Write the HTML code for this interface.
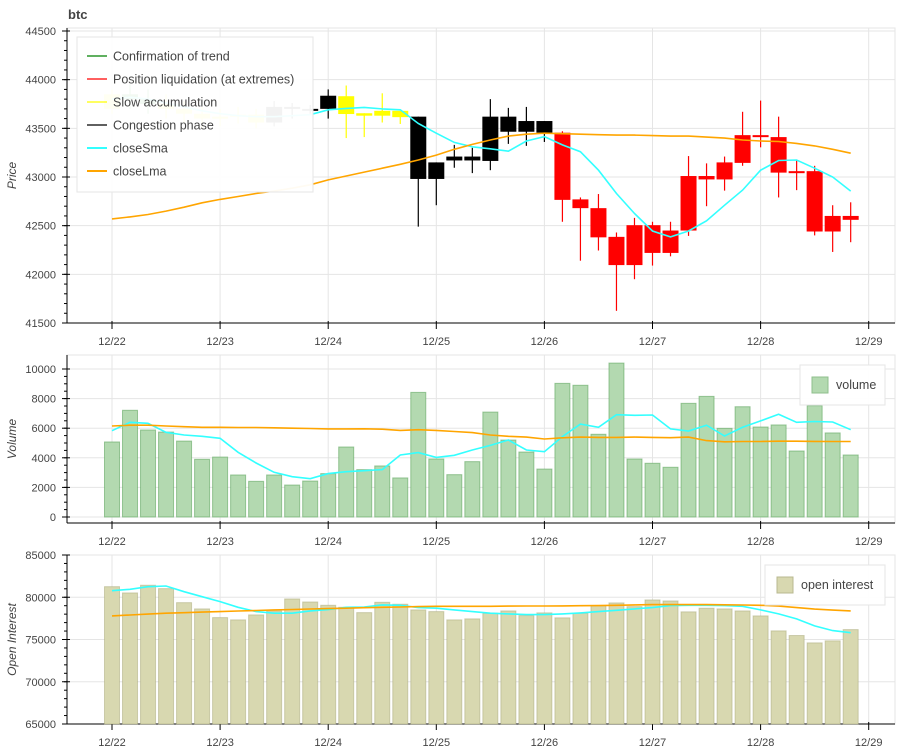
<!DOCTYPE html>
<html><head><meta charset="utf-8">
<style>
body{margin:0;background:#fff;font-family:"Liberation Sans",sans-serif;}
svg text{font-family:"Liberation Sans",sans-serif;}
</style></head>
<body>
<svg id="chart" width="900" height="750" xmlns="http://www.w3.org/2000/svg">
<rect width="900" height="750" fill="#fff"/>
<text x="68" y="19" font-size="13" font-weight="bold" fill="#444">btc</text>
<g id="p1"></g><g id="p2"></g><g id="p3"></g>
</svg>
<script>
const dayLabels=["12/22","12/23","12/24","12/25","12/26","12/27","12/28","12/29"];
const open=[43700,43850,43800,43750,43700,43650,43600,43620,43640,43560,43720,43700,43700,43830,43655,43680,43680,43620,43150,43170,43170,43165,43620,43575,43575,43455,42770,42680,42385,42095,42505,42450,42450,43010,42975,43145,43410,43410,43060,43060,42600,42560];
const close=[43850,43800,43750,43700,43650,43600,43620,43640,43560,43720,43700,43700,43835,43647,43630,43630,43615,42980,42980,43210,43210,43620,43465,43465,43455,42765,42680,42380,42095,42505,42220,42220,43010,42975,43150,43430,43430,43045,43045,42440,42440,42600];
const high=[43900,43950,43900,43850,43780,43720,43700,43720,43700,43780,43760,43740,43900,43940,43655,43860,43680,43620,43150,43330,43300,43800,43710,43720,43575,43470,42790,42825,42430,42580,42540,42540,43215,43140,43210,43670,43785,43620,43180,43115,42710,42740];
const low=[43650,43700,43650,43600,43550,43500,43520,43550,43500,43520,43600,43650,43600,43400,43410,43560,43545,42490,42710,43095,43040,43070,43340,43320,43360,42540,42140,42245,41625,41950,42090,42185,42395,42700,42860,43115,43305,42790,42865,42400,42230,42330];
const phase=["y","g","g","y","y","y","y","y","y","k","k","k","k","y","y","y","y","k","k","k","k","k","k","k","k","r","r","r","r","r","r","r","r","r","r","r","r","r","r","r","r","r"];
const priceSma=[43800,43820,43800,43760,43720,43680,43650,43630,43620,43620,43630,43640,43690,43705,43715,43700,43690,43550,43450,43355,43310,43290,43265,43370,43415,43330,43260,43070,42830,42625,42445,42385,42445,42550,42710,42865,43070,43170,43175,43090,43000,42855];
const priceLma=[42570,42590,42615,42650,42690,42735,42770,42800,42830,42855,42885,42920,42970,43010,43050,43090,43130,43175,43225,43285,43335,43380,43420,43440,43450,43445,43440,43435,43430,43430,43425,43420,43420,43410,43400,43380,43370,43365,43345,43320,43285,43245];
const volume=[5070,7210,5880,5740,5130,3900,4050,2840,2410,2840,2160,2430,2930,4730,3200,3450,2640,8420,3920,2860,3740,7090,5200,4390,3240,9030,8900,5590,10400,3920,3630,3360,7680,8150,5990,7450,6080,6220,4460,7520,5680,4190];
const volSma=[5830,6400,6330,5720,5540,5450,5320,4370,3650,3020,2720,2590,2930,3060,3130,3200,4190,4350,4030,4170,4530,4840,5200,4530,4410,5430,6280,6060,6910,6870,6890,5950,5810,6200,5470,6060,6490,6940,6400,6450,6420,5900];
const volLma=[6150,6200,6200,6150,6100,6060,6060,6050,6050,6030,6000,5980,5950,5950,5960,5930,5850,5900,5850,5780,5700,5540,5450,5400,5270,5350,5400,5380,5380,5400,5380,5360,5400,5160,5080,5100,5100,5120,5120,5110,5100,5100];
const oi=[81250,80510,81420,81020,79360,78620,77590,77320,77910,78380,79800,79440,79050,78810,78180,79400,79170,78500,78300,77320,77440,78110,78380,77830,78150,77560,78110,79000,79330,78890,79680,79560,78270,78700,78620,78380,77790,76020,75470,74600,74840,76170];
const oiSma=[80780,80940,81250,81330,80660,80070,79480,78810,78300,78110,78110,78380,78540,78810,78850,79090,79050,78770,78700,78500,78300,78110,78030,77950,77950,78030,78150,78300,78460,78620,78770,79010,79050,79050,79010,78930,78500,78030,77440,76610,76050,75800];
const oiLma=[77790,77900,78000,78110,78170,78240,78300,78370,78430,78500,78550,78610,78660,78710,78760,78810,78850,78890,78930,78930,78930,78930,78950,78960,78970,78980,79000,79010,79050,79090,79130,79130,79130,79130,79110,79080,79050,78950,78770,78600,78480,78380];
const priceTicks=[41500,42000,42500,43000,43500,44000,44500];
const volTicks=[0,2000,4000,6000,8000,10000];
const oiTicks=[65000,70000,75000,80000,85000];

const NS="http://www.w3.org/2000/svg";
const L=67,R=895,X0=112,DAY=108.1;
function xIdx(i){return X0+i*DAY/6;}
function xDay(d){return X0+d*DAY;}
function mk(parent,tag,attrs){const e=document.createElementNS(NS,tag);for(const k in attrs)e.setAttribute(k,attrs[k]);parent.appendChild(e);return e;}
function scale(v0,v1,y0,y1){return v=>y0+(v-v0)*(y1-y0)/(v1-v0);}
const colMap={g:"#008000",r:"#ff0000",y:"#ffff00",k:"#000000"};

function frame(g,top,bottom,ys,ticks,minorStep,title,name){
  const f=mk(g,"rect",{x:L,y:top,width:R-L,height:bottom-top,fill:"none",stroke:"#e5e5e5"});
  
  
  for(let d=0;d<dayLabels.length;d++){
    const gl=mk(g,"line",{x1:xDay(d),x2:xDay(d),y1:top,y2:bottom,stroke:"#e5e5e5"});
    
    
  }
  ticks.forEach(t=>{
    const y=ys(t);
    const gl=mk(g,"line",{x1:L,x2:R,y1:y,y2:y,stroke:"#e5e5e5"});
    
    
    mk(g,"line",{x1:L-5,x2:L+3,y1:y,y2:y,stroke:"#000"});
    const tx=mk(g,"text",{x:L-11,y:y+4,"font-size":"11","text-anchor":"end",fill:"#444"});
    tx.textContent=t;
    
    
  });
  for(let v=ticks[0];v<=ticks[ticks.length-1];v+=minorStep){
    const y=ys(v);mk(g,"line",{x1:L-3,x2:L,y1:y,y2:y,stroke:"#000"});
  }
  const ax=mk(g,"line",{x1:L,x2:L,y1:top,y2:bottom,stroke:"#000"});
  
  
  const bx=mk(g,"line",{x1:L,x2:R,y1:bottom,y2:bottom,stroke:"#000"});
  
  
  dayLabels.forEach((lab,d)=>{
    const x=xDay(d);
    mk(g,"line",{x1:x,x2:x,y1:bottom-2,y2:bottom+6,stroke:"#000"});
    const tx=mk(g,"text",{x:x,y:bottom+22,"font-size":"11","text-anchor":"middle",fill:"#444"});
    tx.textContent=lab;
    
    
  });
  const yt=mk(g,"text",{x:0,y:0,"font-size":"12","font-style":"italic","text-anchor":"middle",fill:"#444",transform:`translate(16,${(top+bottom)/2}) rotate(-90)`});
  yt.textContent=title;
  
  
}
function line(g,vals,ys,color,name){
  const pts=vals.map((v,i)=>xIdx(i).toFixed(1)+","+ys(v).toFixed(1)).join(" ");
  const p=mk(g,"polyline",{points:pts,fill:"none",stroke:color,"stroke-width":"1.6"});
  
  
}
function bars(g,vals,ys,fill,stroke,name){
  vals.forEach((v,i)=>{
    const y=ys(v);
    const b=mk(g,"rect",{x:xIdx(i)-7.5,y:y,width:15,height:ys.base-y,fill:fill,stroke:stroke,"stroke-opacity":"0.5"});
    
    
  });
}
function legendBox(g,x,y,w,h){
  return mk(g,"rect",{x:x,y:y,width:w,height:h,fill:"#fff","fill-opacity":"0.95",stroke:"#e5e5e5"});
}

// Panel 1
const g1=document.getElementById("p1");
const yP=scale(41500,44500,323,31);
frame(g1,28,323,yP,priceTicks,100,"Price","price");
for(let i=0;i<open.length;i++){
  const x=xIdx(i),c=colMap[phase[i]];
  const w=mk(g1,"line",{x1:x,x2:x,y1:yP(high[i]),y2:yP(low[i]),stroke:c,"stroke-width":"1.2"});
  
  
  const t=Math.max(open[i],close[i]),b=Math.min(open[i],close[i]);
  const h=Math.max(2,yP(b)-yP(t));
  const r=mk(g1,"rect",{x:x-8,y:yP(t),width:16,height:h,fill:c});
  
  
}
line(g1,priceSma,yP,"#33ffff","close-sma-line");
line(g1,priceLma,yP,"#ffa500","close-lma-line");
const lg=document.createElementNS(NS,"g");g1.appendChild(lg);


legendBox(lg,77,37,236,155);
const legItems=[["Confirmation of trend","#008000"],["Position liquidation (at extremes)","#ff0000"],["Slow accumulation","#ffff00"],["Congestion phase","#000000"],["closeSma","#33ffff"],["closeLma","#ffa500"]];
legItems.forEach((it,k)=>{
  const y=56+k*23;
  const e=mk(lg,"g",{});
  
  
  mk(e,"line",{x1:87,x2:107,y1:y,y2:y,stroke:it[1],"stroke-width":k>3?2:1.2});
  const t=mk(e,"text",{x:113,y:y+4.5,"font-size":"12.5",fill:"#444"});t.textContent=it[0];
});

// Panel 2
const g2=document.getElementById("p2");
const yV=scale(0,10000,517,369);yV.base=517;
frame(g2,355,523,yV,volTicks,500,"Volume","volume");
bars(g2,volume,yV,"#b3d9b0","#4a9a4a","volume");
line(g2,volSma,yV,"#33ffff","volume-sma-line");
line(g2,volLma,yV,"#ffa500","volume-lma-line");
const lv=mk(g2,"g",{});


legendBox(lv,800,365,85,40);
mk(lv,"rect",{x:812,y:377,width:16,height:16,fill:"#b3d9b0",stroke:"#8fbf8c"});
const tv=mk(lv,"text",{x:836,y:389,"font-size":"12.5",fill:"#444"});tv.textContent="volume";

// Panel 3
const g3=document.getElementById("p3");
const yO=scale(65000,85000,724,555);yO.base=724;
frame(g3,555,724,yO,oiTicks,1000,"Open Interest","oi");
bars(g3,oi,yO,"#d8d8b0","#a8a878","open-interest");
line(g3,oiSma,yO,"#33ffff","oi-sma-line");
line(g3,oiLma,yO,"#ffa500","oi-lma-line");
const lo=mk(g3,"g",{});


legendBox(lo,765,565,120,40);
mk(lo,"rect",{x:777,y:577,width:16,height:16,fill:"#d8d8b0",stroke:"#b8b890"});
const to=mk(lo,"text",{x:801,y:589,"font-size":"12.5",fill:"#444"});to.textContent="open interest";
</script>
</body></html>
